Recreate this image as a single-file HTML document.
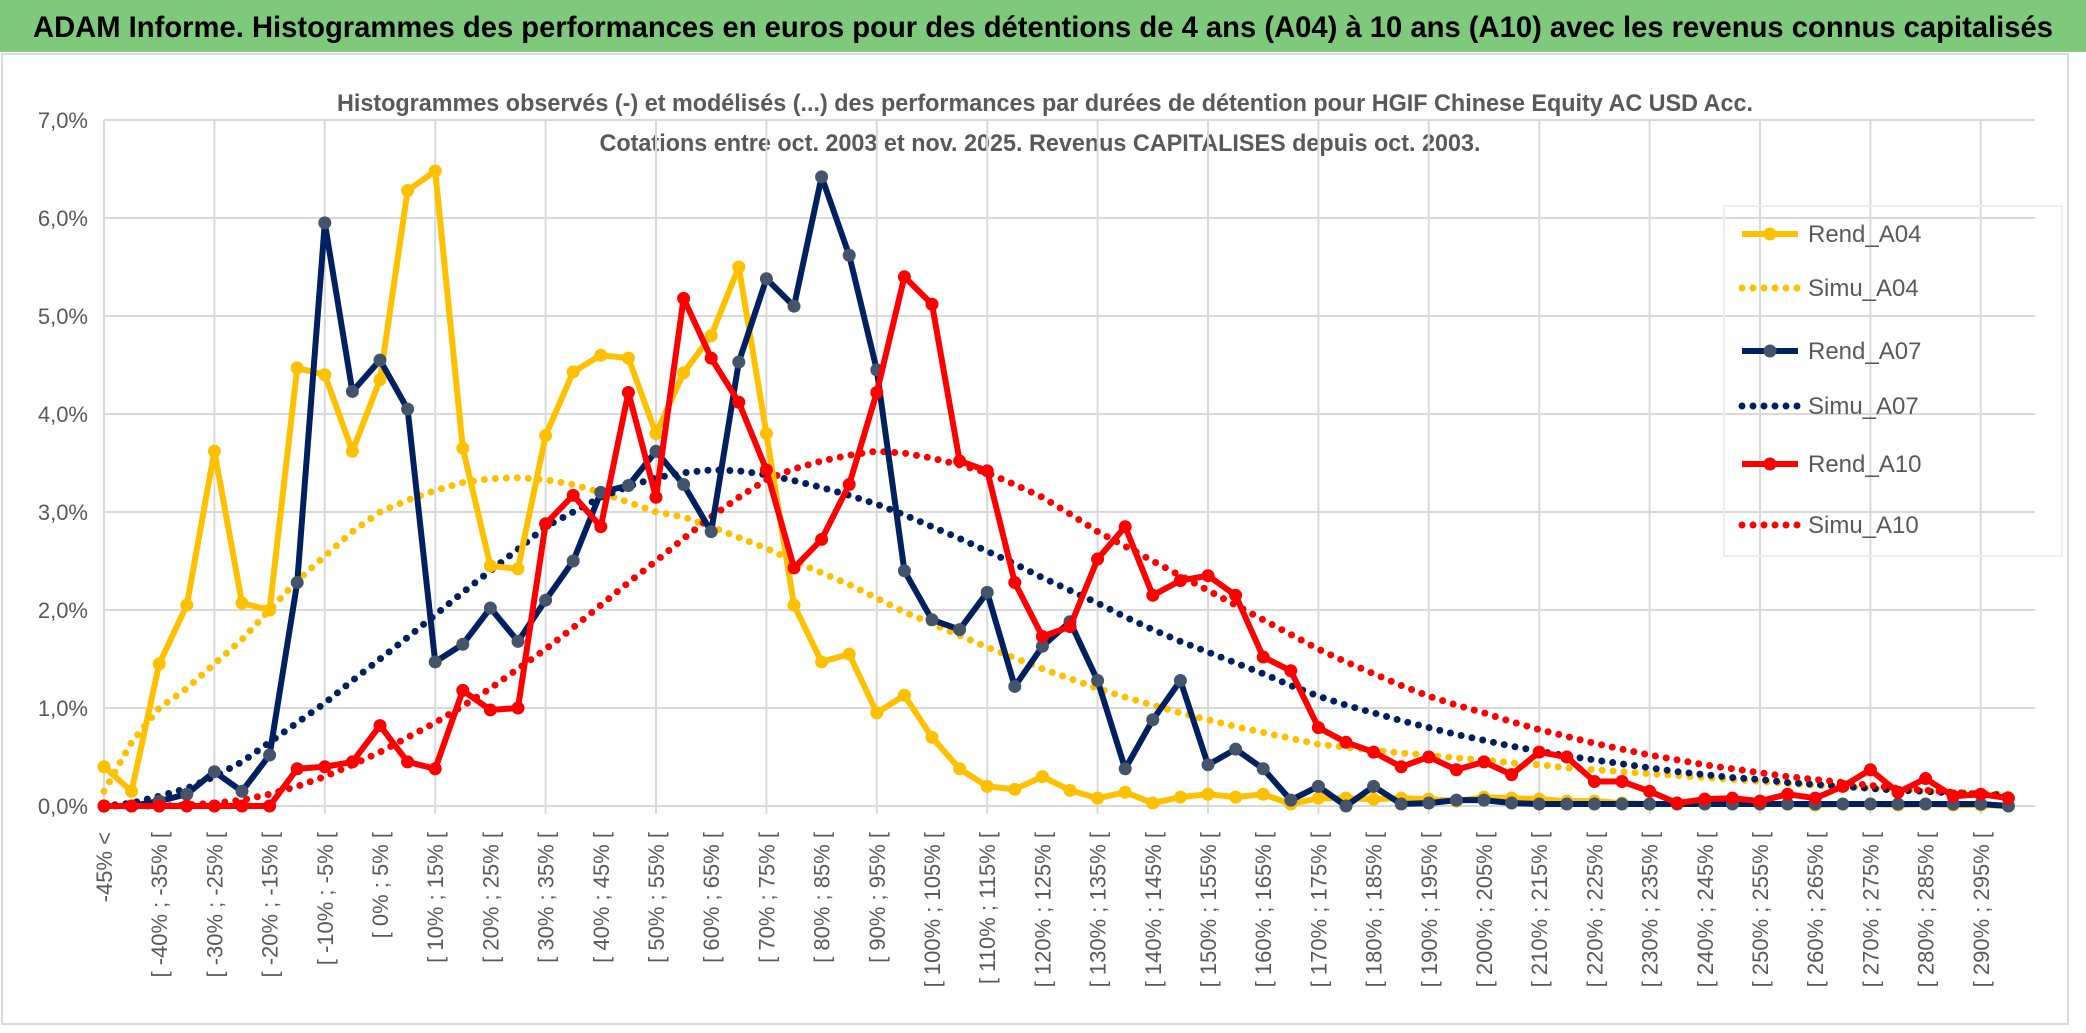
<!DOCTYPE html>
<html><head><meta charset="utf-8">
<style>
html,body{margin:0;padding:0;background:#fff;}
svg{display:block;font-family:"Liberation Sans",sans-serif;}
</style></head>
<body>
<svg id="chart" width="2086" height="1033" viewBox="0 0 2086 1033" xmlns="http://www.w3.org/2000/svg">
<rect x="0" y="0" width="2086" height="52" fill="#7ec97c"/>
<text x="1043" y="37" text-anchor="middle" font-size="30" font-weight="bold" fill="#000" textLength="2020" lengthAdjust="spacingAndGlyphs">ADAM Informe. Histogrammes des performances en euros pour des détentions de 4 ans (A04) à 10 ans (A10) avec les revenus connus capitalisés</text>
<rect x="2" y="54" width="2066" height="970" fill="none" stroke="#d9d9d9" stroke-width="2"/>
<text x="1045" y="111" text-anchor="middle" font-size="24" font-weight="bold" fill="#595959" textLength="1416" lengthAdjust="spacingAndGlyphs">Histogrammes observés (-) et modélisés (...) des performances par durées de détention pour HGIF Chinese Equity AC USD Acc.</text>
<text x="1040" y="151" text-anchor="middle" font-size="24" font-weight="bold" fill="#595959" textLength="881" lengthAdjust="spacingAndGlyphs">Cotations entre oct. 2003 et nov. 2025. Revenus CAPITALISES depuis oct. 2003.</text>
<g id="grid"></g>
<g id="ylabels"></g>
<g id="xlabels"></g>
<g id="series"></g>
<g id="legend"></g>
</svg>
<script>
const categories = [];
categories.push('-45% <');
for (let k = 1; k < 70; k++) { const lo = -50 + 5 * k; categories.push('[ ' + lo + '% ; ' + (lo + 5) + '% ['); }
const yTicks = [0,1,2,3,4,5,6,7];
const rendA04 = [0.4,0.15,1.45,2.05,3.62,2.07,2.0,4.47,4.4,3.62,4.35,6.28,6.48,3.65,2.45,2.42,3.78,4.43,4.6,4.57,3.8,4.42,4.8,5.5,3.8,2.05,1.47,1.55,0.95,1.13,0.7,0.38,0.2,0.17,0.3,0.16,0.08,0.14,0.03,0.09,0.12,0.09,0.12,0.02,0.08,0.08,0.07,0.08,0.07,0.05,0.09,0.08,0.07,0.05,0.05,0.03,0.02,0.02,0.02,0.03,0.02,0.02,0.01,0.02,0.02,0.01,0.02,0.01,0.01,0.0];
const simuA04 = [0.15,0.65,1.0,1.2,1.45,1.7,2.0,2.3,2.55,2.8,3.0,3.12,3.22,3.3,3.34,3.35,3.33,3.28,3.2,3.1,3.0,2.95,2.85,2.74,2.63,2.5,2.38,2.26,2.12,1.98,1.86,1.74,1.62,1.51,1.4,1.3,1.2,1.11,1.03,0.95,0.88,0.81,0.75,0.69,0.63,0.6,0.57,0.54,0.52,0.49,0.47,0.44,0.42,0.39,0.37,0.35,0.33,0.31,0.29,0.27,0.25,0.23,0.21,0.2,0.18,0.17,0.15,0.14,0.13,0.12];
const rendA07 = [0,0,0.05,0.12,0.35,0.15,0.52,2.28,5.95,4.23,4.55,4.05,1.47,1.65,2.02,1.68,2.1,2.5,3.2,3.27,3.62,3.28,2.8,4.53,5.38,5.1,6.42,5.62,4.45,2.4,1.9,1.8,2.18,1.22,1.63,1.88,1.28,0.38,0.88,1.28,0.42,0.58,0.38,0.06,0.2,0.0,0.2,0.02,0.03,0.06,0.06,0.03,0.02,0.02,0.02,0.02,0.02,0.02,0.02,0.02,0.02,0.02,0.02,0.02,0.02,0.02,0.02,0.02,0.02,0];
const simuA07 = [0,0.03,0.1,0.18,0.3,0.45,0.65,0.85,1.05,1.28,1.5,1.72,1.95,2.18,2.4,2.62,2.85,3.0,3.15,3.26,3.35,3.4,3.43,3.42,3.38,3.32,3.25,3.17,3.08,2.97,2.85,2.73,2.6,2.47,2.33,2.2,2.07,1.93,1.8,1.68,1.57,1.46,1.35,1.23,1.12,1.03,0.95,0.87,0.8,0.73,0.67,0.61,0.56,0.51,0.47,0.43,0.39,0.35,0.32,0.29,0.27,0.24,0.22,0.2,0.18,0.16,0.15,0.13,0.12,0.11];
const rendA10 = [0,0,0,0,0,0,0,0.38,0.4,0.45,0.82,0.45,0.38,1.18,0.98,1.0,2.88,3.17,2.85,4.22,3.15,5.18,4.57,4.12,3.43,2.43,2.72,3.28,4.22,5.4,5.12,3.52,3.42,2.28,1.73,1.83,2.52,2.85,2.15,2.3,2.35,2.15,1.52,1.38,0.8,0.65,0.55,0.4,0.5,0.37,0.45,0.32,0.55,0.5,0.25,0.25,0.15,0.03,0.07,0.08,0.05,0.12,0.08,0.2,0.37,0.14,0.28,0.1,0.12,0.08];
const simuA10 = [0,0,0,0.01,0.03,0.06,0.12,0.2,0.3,0.42,0.55,0.7,0.85,1.02,1.2,1.4,1.6,1.82,2.05,2.28,2.5,2.73,2.95,3.15,3.33,3.44,3.52,3.58,3.62,3.6,3.55,3.48,3.4,3.28,3.15,2.98,2.8,2.65,2.5,2.35,2.2,2.05,1.9,1.75,1.6,1.47,1.35,1.23,1.12,1.03,0.95,0.86,0.78,0.71,0.64,0.58,0.52,0.47,0.42,0.38,0.34,0.3,0.27,0.24,0.21,0.18,0.16,0.14,0.12,0.1];

const NS = 'http://www.w3.org/2000/svg';
const X0 = 104, DX = 27.6, Y0 = 806, PPU = 98, XR = 2035;
function xS(i){ return X0 + i * DX; }
function yS(v){ return Y0 - v * PPU; }
function mk(tag, attrs, parent){ const e = document.createElementNS(NS, tag); for (const k in attrs) e.setAttribute(k, attrs[k]); parent.appendChild(e); return e; }

const grid = document.getElementById('grid');
yTicks.forEach(t => {
  const l = mk('line', {x1: X0, x2: XR, y1: yS(t), y2: yS(t), stroke: '#d9d9d9', 'stroke-width': 2}, grid);
  
  
  const tx = mk('text', {x: 88, y: yS(t) + 8, 'text-anchor': 'end', 'font-size': 22, fill: '#595959'}, document.getElementById('ylabels'));
  tx.textContent = t.toFixed(1).replace('.', ',') + '%';
  
  
});
for (let i = 0; i < categories.length; i += 4) {
  const l = mk('line', {x1: xS(i), x2: xS(i), y1: yS(7), y2: Y0 + 8, stroke: '#d9d9d9', 'stroke-width': 2}, grid);
  
  
}
const xl = document.getElementById('xlabels');
categories.forEach((c, i) => {
  if (i % 2) return;
  const x = xS(i) + 8, y = 832;
  const t = mk('text', {x: x, y: y, 'text-anchor': 'end', 'font-size': 22, fill: '#595959', transform: 'rotate(-90 ' + x + ' ' + y + ')'}, xl);
  t.textContent = c;
  
  
});

const ser = document.getElementById('series');
function pts(arr){ return arr.map((v, i) => xS(i).toFixed(1) + ',' + yS(v).toFixed(1)).join(' '); }
function dotted(arr, color, name){
  const p = mk('polyline', {points: pts(arr), fill: 'none', stroke: color, 'stroke-width': 7, 'stroke-linecap': 'round', 'stroke-dasharray': '0 11'}, ser);
  
  
}
function solid(arr, color, mcolor, name){
  const p = mk('polyline', {points: pts(arr), fill: 'none', stroke: color, 'stroke-width': 6, 'stroke-linejoin': 'round'}, ser);
  
  
  arr.forEach((v, i) => {
    const c = mk('circle', {cx: xS(i), cy: yS(v), r: 6.5, fill: mcolor}, ser);
    
    
  });
}
dotted(simuA04, '#ffc000', 'simu-a04-line');
dotted(simuA07, '#002060', 'simu-a07-line');
dotted(simuA10, '#ff0000', 'simu-a10-line');
solid(rendA04, '#ffc000', '#ffc000', 'rend-a04-line');
solid(rendA07, '#002060', '#44546a', 'rend-a07-line');
solid(rendA10, '#ff0000', '#ff0000', 'rend-a10-line');

const lg = document.getElementById('legend');
const box = mk('rect', {x: 1724, y: 206, width: 338, height: 350, fill: 'none', stroke: '#eeeeee', 'stroke-width': 2}, lg);


const legNames = ['Rend_A04','Simu_A04','Rend_A07','Simu_A07','Rend_A10','Simu_A10'];
const legColors = ['#ffc000','#ffc000','#002060','#002060','#ff0000','#ff0000'];
const legY = [234,288,351,406,464,525];
legNames.forEach((n, k) => {
  const y = legY[k];
  const isDot = n.startsWith('Simu');
  const l = mk('line', {x1: 1742, x2: 1798, y1: y, y2: y, stroke: legColors[k], 'stroke-width': isDot ? 7 : 6, 'stroke-linecap': isDot ? 'round' : 'butt', 'stroke-dasharray': isDot ? '0 11' : 'none'}, lg);
  
  
  if (!isDot) {
    const c = mk('circle', {cx: 1770, cy: y, r: 6.5, fill: k === 2 ? '#44546a' : legColors[k]}, lg);
    
    
  }
  const t = mk('text', {x: 1808, y: y + 8, 'font-size': 24, fill: '#595959'}, lg);
  t.textContent = n;
  
  
});
</script>
</body></html>
